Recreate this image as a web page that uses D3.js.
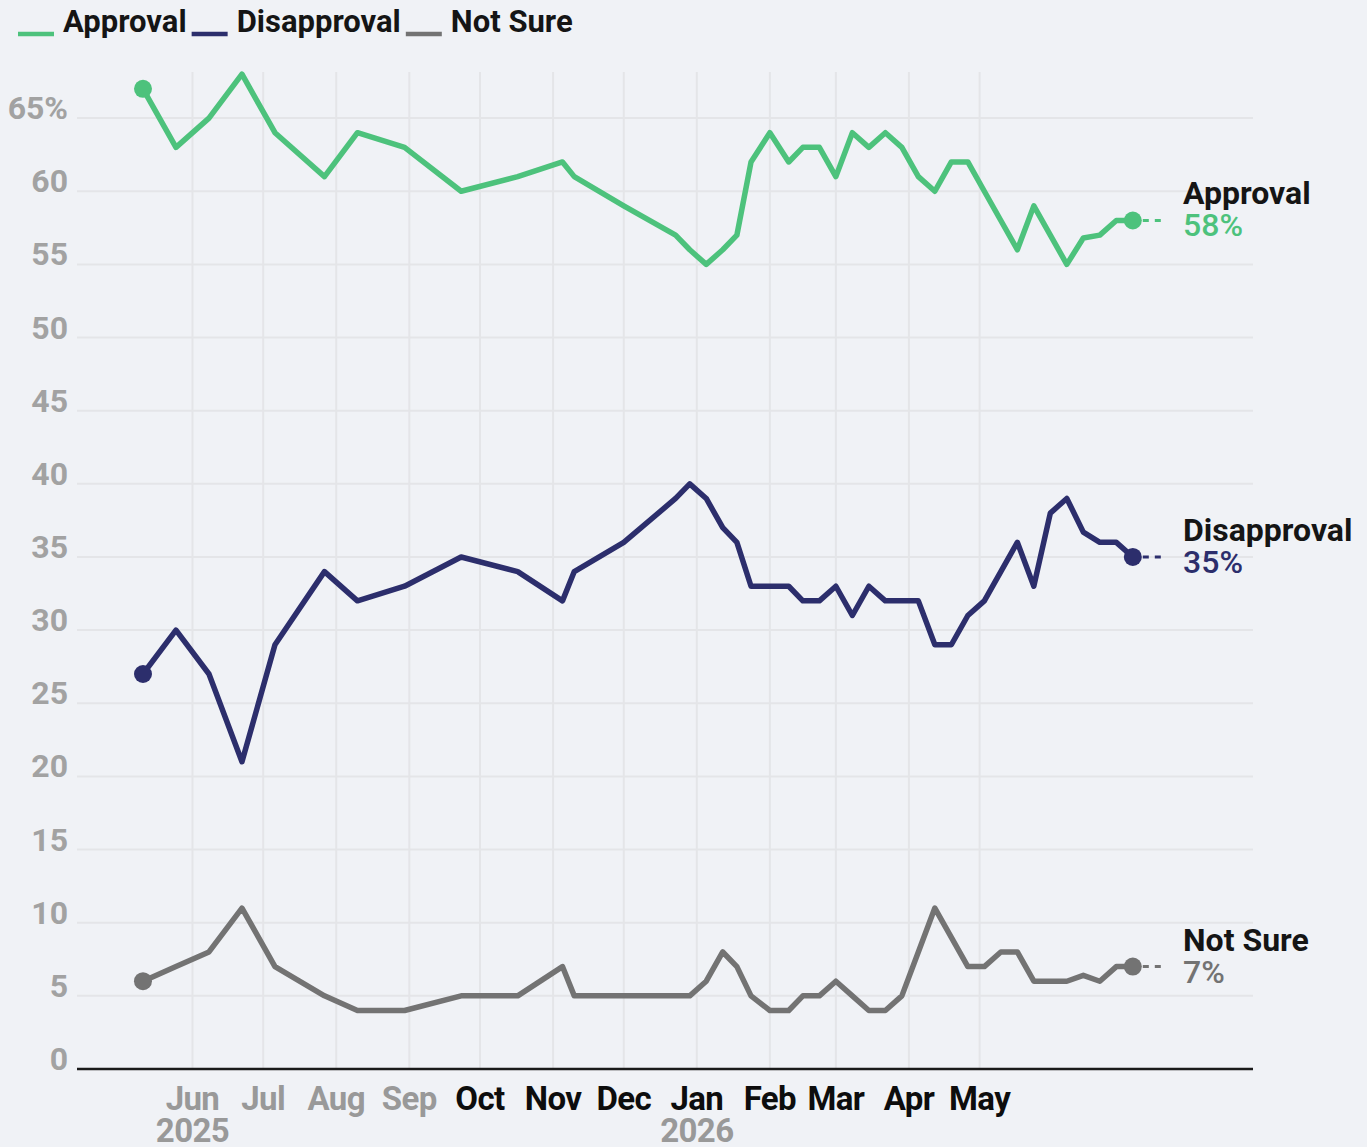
<!DOCTYPE html>
<html>
<head>
<meta charset="utf-8">
<script src="https://cdn.jsdelivr.net/npm/d3@7"></script>
<style>
  html, body { margin: 0; padding: 0; background: #f0f2f6; }
  svg { display: block; font-family: Roboto, "Noto Sans", sans-serif; }
</style>
</head>
<body>
<svg id="chart" width="1367" height="1147"></svg>
<script>
// poll dates and values
var dates = ["2025-05-11","2025-05-25","2025-06-08","2025-06-22","2025-07-06","2025-07-27",
  "2025-08-10","2025-08-30","2025-09-23","2025-10-17","2025-11-05","2025-11-10","2025-12-01",
  "2025-12-23","2025-12-29","2026-01-05","2026-01-12","2026-01-18","2026-01-24","2026-02-01",
  "2026-02-09","2026-02-15","2026-02-22","2026-03-01","2026-03-08","2026-03-15","2026-03-22",
  "2026-03-29","2026-04-05","2026-04-12","2026-04-19","2026-04-26","2026-05-03","2026-05-10",
  "2026-05-17","2026-05-24","2026-05-31","2026-06-07","2026-06-14","2026-06-21","2026-06-28",
  "2026-07-05"];
var approval = [67,63,65,68,64,61,64,63,60,61,62,61,59,57,56,55,56,57,62,64,62,63,63,61,64,63,64,
  63,61,60,62,62,60,58,56,59,57,55,56.8,57,58,58];
var disapproval = [27,30,27,21,29,34,32,33,35,34,32,34,36,39,40,39,37,36,33,33,33,32,32,33,31,33,32,
  32,32,29,29,31,32,34,36,33,38,39,36.7,36,36,35];
var notSure = [6,7,8,11,7,5,4,4,5,5,7,5,5,5,5,6,8,7,5,4,4,5,5,6,5,4,4,
  5,8,11,9,7,7,8,8,6,6,6,6.4,6,7,7];

var seriesNames = ["Approval", "Disapproval", "Not Sure"];
var seriesColors = ["#4dc27c", "#2c2e6c", "#737373"];

var monthTicks = ["2025-06-01","2025-07-01","2025-08-01","2025-09-01","2025-10-01","2025-11-01",
  "2025-12-01","2026-01-01","2026-02-01","2026-03-01","2026-04-01","2026-05-01"];
var greyMonths = ["Jun", "Jul", "Aug", "Sep"];
var yearLabels = { "2025-06-01": "2025", "2026-01-01": "2026" };
var yTicks = [0,5,10,15,20,25,30,35,40,45,50,55,60,65];

var parse = d3.timeParse("%Y-%m-%d");
var svg = d3.select("#chart");

var plotL = 77, plotR = 1253, plotT = 72, plotB = 1069;

var x = d3.scaleTime()
  .domain([parse("2025-04-13"), parse("2026-08-25")])
  .range([plotL, plotR]);
var y = d3.scaleLinear()
  .domain([0, 68.15])
  .range([plotB, plotT]);

var series = [approval, disapproval, notSure].map(function(vals, i) {
  return {
    name: seriesNames[i],
    color: seriesColors[i],
    values: vals.map(function(v, j) { return { date: parse(dates[j]), value: v }; })
  };
});

// gridlines
var grid = svg.append("g").attr("class", "grid");
grid.selectAll("line.h")
  .data(yTicks.filter(function(d) { return d > 0; }))
  .enter().append("line")
  .attr("class", "h")
  .attr("x1", plotL).attr("x2", plotR)
  .attr("y1", function(d) { return y(d); })
  .attr("y2", function(d) { return y(d); })
  .attr("stroke", "#e4e5e8")
  .attr("stroke-width", 2);

grid.selectAll("line.v")
  .data(monthTicks)
  .enter().append("line")
  .attr("class", "v")
  .attr("x1", function(d) { return x(parse(d)); })
  .attr("x2", function(d) { return x(parse(d)); })
  .attr("y1", plotT).attr("y2", plotB)
  .attr("stroke", "#e4e5e8")
  .attr("stroke-width", 2);

// y labels
svg.append("g")
  .selectAll("text")
  .data(yTicks)
  .enter().append("text")
  .attr("x", 68)
  .attr("y", function(d) { return y(d) + 1; })
  .attr("text-anchor", "end")
  .attr("font-size", 32)
  .attr("font-weight", 700)
  .attr("fill", "#a2a2a2")
  .text(function(d) { return d === 65 ? d + "%" : d; });

// x axis line
svg.append("line")
  .attr("x1", plotL).attr("x2", plotR)
  .attr("y1", plotB).attr("y2", plotB)
  .attr("stroke", "#1a1a1a")
  .attr("stroke-width", 2.5);

var fmtMonth = d3.timeFormat("%b");
var xl = svg.append("g").attr("class", "xlabels");
xl.selectAll("text.month")
  .data(monthTicks)
  .enter().append("text")
  .attr("class", "month")
  .attr("x", function(d) { return x(parse(d)); })
  .attr("y", 1110)
  .attr("text-anchor", "middle")
  .attr("font-size", 33)
  .attr("font-weight", 700)
  .attr("letter-spacing", -0.6)
  .attr("fill", function(d) {
    return greyMonths.indexOf(fmtMonth(parse(d))) >= 0 ? "#999999" : "#0d0d0d";
  })
  .text(function(d) { return fmtMonth(parse(d)); });

xl.selectAll("text.year")
  .data(monthTicks.filter(function(d) { return yearLabels[d]; }))
  .enter().append("text")
  .attr("class", "year")
  .attr("x", function(d) { return x(parse(d)); })
  .attr("y", 1142)
  .attr("text-anchor", "middle")
  .attr("font-size", 33)
  .attr("font-weight", 700)
  .attr("letter-spacing", -0.6)
  .attr("fill", "#999999")
  .text(function(d) { return yearLabels[d]; });

// lines
var line = d3.line()
  .x(function(d) { return x(d.date); })
  .y(function(d) { return y(d.value); });

var g = svg.append("g").attr("class", "series")
  .selectAll("g")
  .data(series)
  .enter().append("g");

g.append("path")
  .attr("d", function(d) { return line(d.values); })
  .attr("fill", "none")
  .attr("stroke", function(d) { return d.color; })
  .attr("stroke-width", 5.5)
  .attr("stroke-linejoin", "round")
  .attr("stroke-linecap", "round");

// start and end dots
g.selectAll("circle")
  .data(function(d) {
    var v = d.values;
    return [v[0], v[v.length - 1]].map(function(p) { return { p: p, color: d.color }; });
  })
  .enter().append("circle")
  .attr("cx", function(d) { return x(d.p.date); })
  .attr("cy", function(d) { return y(d.p.value); })
  .attr("r", 9)
  .attr("fill", function(d) { return d.color; });

// dashed tail to the label
g.append("line")
  .attr("x1", function(d) { return x(d.values[d.values.length - 1].date) + 10; })
  .attr("x2", function(d) { return x(d.values[d.values.length - 1].date) + 28; })
  .attr("y1", function(d) { return y(d.values[d.values.length - 1].value); })
  .attr("y2", function(d) { return y(d.values[d.values.length - 1].value); })
  .attr("stroke", function(d) { return d.color; })
  .attr("stroke-width", 3)
  .attr("stroke-dasharray", "6,6");

// end labels
g.append("text")
  .attr("x", 1183)
  .attr("y", function(d) { return y(d.values[d.values.length - 1].value) - 16; })
  .attr("font-size", 32)
  .attr("font-weight", 700)
  .attr("fill", "#151515")
  .text(function(d) { return d.name; });

g.append("text")
  .attr("x", 1183)
  .attr("y", function(d) { return y(d.values[d.values.length - 1].value) + 16; })
  .attr("font-size", 32)
  .attr("font-weight", 500)
  .attr("fill", function(d) { return d.color; })
  .text(function(d) { return Math.round(d.values[d.values.length - 1].value) + "%"; });

// legend
var legend = svg.append("g").attr("class", "legend");
var lx = 18;
series.forEach(function(s) {
  legend.append("line")
    .attr("x1", lx).attr("x2", lx + 36)
    .attr("y1", 34).attr("y2", 34)
    .attr("stroke", s.color)
    .attr("stroke-width", 4.5);
  var t = legend.append("text")
    .attr("x", lx + 45)
    .attr("y", 32)
    .attr("font-size", 31)
    .attr("font-weight", 700)
    .attr("fill", "#151515")
    .text(s.name);
  lx += 45 + t.node().getComputedTextLength() + 5;
});
</script>
</body>
</html>
